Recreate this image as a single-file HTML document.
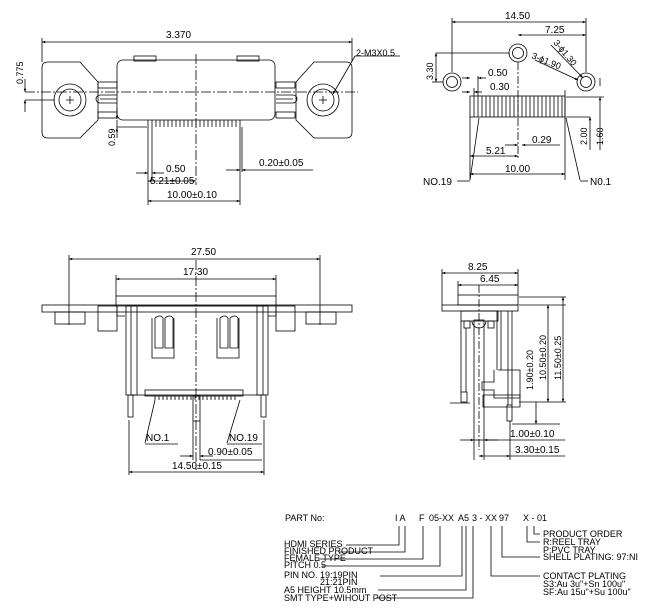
<!DOCTYPE html>
<html><head><meta charset="utf-8"><style>
html,body{margin:0;padding:0;background:#fff;}
svg{display:block;}
text{font-family:"Liberation Sans",sans-serif;font-size:10px;fill:#000;}
.s{font-size:9px;}
</style></head><body>
<svg width="650" height="610" viewBox="0 0 650 610" xmlns="http://www.w3.org/2000/svg">
<defs>
<marker id="a" viewBox="0 0 10 10" refX="10" refY="5" markerWidth="6" markerHeight="4" orient="auto-start-reverse"><path d="M0,1 L10,5 L0,9 z" fill="#000"/></marker>
</defs>
<g fill="none" stroke="#000" stroke-width="0.8">
<!-- ===== Top-left view ===== -->
<line x1="42" y1="42" x2="352" y2="42" marker-start="url(#a)" marker-end="url(#a)"/>
<line x1="42" y1="38" x2="42" y2="62"/><line x1="352" y1="38" x2="352" y2="62"/>
<path d="M48,62 H80 L98,82 V120 L80,138 H48 Q42,138 42,132 V68 Q42,62 48,62 Z"/>
<path d="M346,62 H314 L296,82 V120 L314,138 H346 Q352,138 352,132 V68 Q352,62 346,62 Z"/>
<rect x="117" y="60" width="158" height="60" rx="6"/>
<rect x="134" y="56" width="22" height="5"/><rect x="237" y="56" width="22" height="5"/>
<rect x="98" y="82" width="19" height="6"/><rect x="98" y="112" width="19" height="6"/>
<rect x="276" y="82" width="19" height="6"/><rect x="276" y="112" width="19" height="6"/>
<path d="M117,95 H100 A4,4 0 0 0 100,103 H117"/><path d="M117,99 H100"/>
<path d="M276,95 H293 A4,4 0 0 1 293,103 H276"/><path d="M276,99 H293"/>
<circle cx="70" cy="100" r="16"/><circle cx="70" cy="100" r="11"/>
<circle cx="323" cy="100" r="16"/><circle cx="323" cy="100" r="11"/>
<path d="M66,100h8M70,96v8M319,100h8M323,96v8"/>
<line x1="25" y1="92" x2="358" y2="92" stroke-dasharray="10,2,2,2"/>
<line x1="196" y1="54" x2="196" y2="185" stroke-dasharray="10,2,2,2"/>
<path d="M148,120 V127 M152,120V127 M156,120V127 M160,120V127 M164,120V127 M168,120V127 M172,120V127 M176,120V127 M180,120V127 M184,120V127 M188,120V127 M192,120V127 M196,120V127 M200,120V127 M204,120V127 M208,120V127 M212,120V127 M216,120V127 M220,120V127 M224,120V127 M228,120V127 M232,120V127 M236,120V127 M240,120V127"/>
<line x1="148" y1="127" x2="148" y2="205"/><line x1="152" y1="127" x2="152" y2="180"/>
<line x1="240" y1="127" x2="240" y2="205"/><line x1="242" y1="127" x2="242" y2="172"/>
<line x1="136" y1="173" x2="148" y2="173" marker-end="url(#a)"/><line x1="164" y1="173" x2="152" y2="173" marker-end="url(#a)"/>
<line x1="148" y1="181" x2="196" y2="181" marker-start="url(#a)" marker-end="url(#a)"/>
<line x1="148" y1="201" x2="240" y2="201" marker-start="url(#a)" marker-end="url(#a)"/>
<line x1="226" y1="170" x2="240" y2="170" marker-end="url(#a)"/><line x1="313" y1="170" x2="242" y2="170" marker-end="url(#a)"/>
<line x1="25" y1="79" x2="25" y2="92" marker-end="url(#a)"/><line x1="25" y1="112" x2="25" y2="100" marker-end="url(#a)"/>
<line x1="25" y1="100" x2="55" y2="100"/>
<line x1="117" y1="120" x2="117" y2="132"/><line x1="117" y1="108" x2="117" y2="119" marker-end="url(#a)"/>
<line x1="117" y1="138" x2="117" y2="128" marker-end="url(#a)"/><line x1="117" y1="127" x2="147" y2="127"/>
<line x1="333" y1="94" x2="355" y2="56" marker-start="url(#a)"/><line x1="355" y1="56" x2="400" y2="56"/>

<!-- ===== Top-right view ===== -->
<line x1="452" y1="22" x2="586" y2="22" marker-start="url(#a)" marker-end="url(#a)"/>
<line x1="452" y1="18" x2="452" y2="72"/><line x1="586" y1="18" x2="586" y2="72"/>
<line x1="518" y1="35" x2="586" y2="35" marker-start="url(#a)" marker-end="url(#a)"/>
<circle cx="518" cy="53" r="9"/><circle cx="518" cy="53" r="5.5"/>
<circle cx="452" cy="82" r="9"/><circle cx="452" cy="82" r="5.5"/>
<circle cx="586" cy="82" r="9"/><circle cx="586" cy="82" r="5.5"/>
<line x1="436" y1="53" x2="509" y2="53"/>
<line x1="436" y1="53" x2="436" y2="82" marker-start="url(#a)" marker-end="url(#a)"/>
<line x1="432" y1="82" x2="443" y2="82"/>
<line x1="518" y1="62" x2="518" y2="160" stroke-dasharray="8,2,2,2"/>
<line x1="551" y1="45" x2="583" y2="78" marker-end="url(#a)"/>
<line x1="535" y1="60" x2="578" y2="80" marker-end="url(#a)"/>
<line x1="600" y1="78" x2="600" y2="86"/>
<rect x="470" y="96" width="95" height="21"/>
<path d="M474,96v21M478,96v21M482,96v21M486,96v21M490,96v21M494,96v21M498,96v21M502,96v21M506,96v21M510,96v21M514,96v21M518,96v21M522,96v21M526,96v21M530,96v21M534,96v21M538,96v21M542,96v21M546,96v21M550,96v21M554,96v21M558,96v21M562,96v21"/>
<line x1="470" y1="117" x2="470" y2="180"/><line x1="474" y1="88" x2="474" y2="96"/>
<line x1="478" y1="76" x2="478" y2="96"/><line x1="565" y1="90" x2="565" y2="180"/>
<line x1="462" y1="78" x2="470" y2="78" marker-end="url(#a)"/><line x1="486" y1="78" x2="478" y2="78" marker-end="url(#a)"/>
<line x1="462" y1="92" x2="470" y2="92" marker-end="url(#a)"/><line x1="482" y1="92" x2="474" y2="92" marker-end="url(#a)"/>
<line x1="470" y1="156" x2="518" y2="156" marker-start="url(#a)" marker-end="url(#a)"/>
<line x1="505" y1="145" x2="518" y2="145" marker-end="url(#a)"/><line x1="560" y1="145" x2="522" y2="145" marker-end="url(#a)"/>
<line x1="470" y1="174" x2="565" y2="174" marker-start="url(#a)" marker-end="url(#a)"/>
<line x1="566" y1="97" x2="604" y2="97"/><line x1="566" y1="117" x2="590" y2="117"/>
<line x1="590" y1="117" x2="590" y2="150" marker-start="url(#a)"/>
<line x1="600" y1="97" x2="600" y2="150" marker-start="url(#a)"/>
<line x1="479" y1="118" x2="470" y2="180"/><line x1="457" y1="181" x2="470" y2="181"/>
<line x1="566" y1="118" x2="580" y2="180"/><line x1="580" y1="181" x2="588" y2="181"/>

<!-- ===== Bottom-left view ===== -->
<line x1="69" y1="259" x2="320" y2="259" marker-start="url(#a)" marker-end="url(#a)"/>
<line x1="69" y1="255" x2="69" y2="325"/><line x1="320" y1="255" x2="320" y2="325"/>
<line x1="116" y1="279" x2="276" y2="279" marker-start="url(#a)" marker-end="url(#a)"/>
<line x1="116" y1="275" x2="116" y2="296"/><line x1="276" y1="275" x2="276" y2="296"/>
<rect x="116" y="296" width="160" height="10"/>
<rect x="42" y="305" width="310" height="7"/>
<rect x="55" y="312" width="30" height="12"/><rect x="306" y="312" width="30" height="12"/>
<rect x="98" y="306" width="19" height="25"/><rect x="276" y="306" width="19" height="25"/>
<rect x="126" y="306" width="142" height="89"/>
<rect x="131" y="306" width="6" height="89"/><rect x="257" y="306" width="6" height="89"/>
<path d="M117,306v10h8 M276,306v10h-8"/>
<path d="M155,318 q5,-4 8,0 v30 h-8 z M165,318 q5,-4 8,0 v30 h-8 z M152,318 v40 h22 v-40"/>
<path d="M220,318 q5,-4 8,0 v30 h-8 z M230,318 q5,-4 8,0 v30 h-8 z M217,318 v40 h22 v-40"/>
<rect x="145" y="390" width="98" height="6"/>
<path d="M155,396v4M159,396v4M163,396v4M167,396v4M171,396v4M175,396v4M179,396v4M183,396v4M187,396v4M191,396v4M195,396v4M199,396v4M203,396v4M207,396v4M211,396v4M215,396v4M219,396v4M223,396v4M227,396v4M231,396v4M235,396v4"/>
<rect x="128" y="395" width="5" height="22"/><rect x="261" y="395" width="5" height="22"/>
<rect x="193" y="396" width="7" height="25"/>
<line x1="196" y1="260" x2="196" y2="470" stroke-dasharray="10,2,2,2"/>
<line x1="129" y1="420" x2="129" y2="475"/><line x1="264" y1="420" x2="264" y2="475"/>
<line x1="129" y1="472" x2="264" y2="472" marker-start="url(#a)" marker-end="url(#a)"/>
<line x1="193" y1="421" x2="193" y2="460"/><line x1="200" y1="421" x2="200" y2="460"/>
<line x1="180" y1="456" x2="193" y2="456" marker-end="url(#a)"/><line x1="213" y1="456" x2="200" y2="456" marker-end="url(#a)"/>
<line x1="200" y1="460" x2="262" y2="460"/>
<line x1="155" y1="400" x2="145" y2="443"/><line x1="145" y1="444" x2="178" y2="444"/>
<line x1="240" y1="400" x2="227" y2="443"/><line x1="227" y1="444" x2="262" y2="444"/>

<!-- ===== Bottom-right view ===== -->
<line x1="442" y1="273" x2="518" y2="273" marker-start="url(#a)" marker-end="url(#a)"/>
<line x1="442" y1="269" x2="442" y2="305"/><line x1="518" y1="269" x2="518" y2="295"/>
<line x1="458" y1="285" x2="518" y2="285" marker-start="url(#a)" marker-end="url(#a)"/>
<line x1="458" y1="281" x2="458" y2="295"/>
<rect x="458" y="295" width="60" height="10"/>
<rect x="442" y="305" width="76" height="6"/>
<rect x="461" y="311" width="37" height="10"/>
<path d="M472,321 a7,7 0 0 0 14,0"/>
<rect x="464" y="321" width="6" height="7"/><rect x="488" y="321" width="6" height="7"/>
<line x1="461" y1="321" x2="461" y2="392"/><line x1="466" y1="328" x2="466" y2="392"/>
<line x1="497" y1="311" x2="497" y2="370"/><line x1="501" y1="311" x2="501" y2="370"/>
<line x1="508" y1="311" x2="508" y2="405"/><line x1="512" y1="311" x2="512" y2="405"/>
<path d="M498,370 h22 v28 h-26 v-8 h-12 v-8 h12 v-12"/>
<path d="M483,395 h37 v12 h-37 z"/>
<rect x="461" y="392" width="6" height="10"/>
<path d="M450,403 h20"/>
<rect x="474" y="320" width="10" height="120"/>
<rect x="507" y="405" width="5" height="16"/>
<line x1="479" y1="285" x2="479" y2="450" stroke-dasharray="8,2,2,2"/>
<line x1="519" y1="305" x2="566" y2="305"/>
<line x1="519" y1="402" x2="566" y2="402"/>
<line x1="548" y1="305" x2="548" y2="402" marker-start="url(#a)" marker-end="url(#a)"/>
<line x1="563" y1="297" x2="563" y2="402" marker-start="url(#a)" marker-end="url(#a)"/>
<line x1="519" y1="297" x2="566" y2="297"/>
<line x1="536" y1="402" x2="536" y2="424" marker-end="url(#a)"/>
<line x1="512" y1="424" x2="560" y2="424"/>
<line x1="474" y1="440" x2="474" y2="460"/><line x1="484" y1="440" x2="484" y2="460"/><line x1="510" y1="421" x2="510" y2="460"/>
<line x1="460" y1="440" x2="474" y2="440" marker-end="url(#a)"/><line x1="498" y1="440" x2="484" y2="440" marker-end="url(#a)"/>
<line x1="484" y1="440" x2="565" y2="440"/>
<line x1="479" y1="456" x2="510" y2="456" marker-start="url(#a)" marker-end="url(#a)"/>
<line x1="510" y1="456" x2="565" y2="456"/>

<!-- ===== Part number leaders ===== -->
<path d="M399,526 V545 H346"/>
<path d="M405,526 V552 H339"/>
<path d="M423,526 V559 H318"/>
<path d="M440,526 V566 H322"/>
<path d="M462,526 V576 H380"/>
<path d="M466,526 V590 H378"/>
<path d="M473,526 V598 H376"/>
<path d="M491,526 V576 H540"/>
<path d="M502,526 V557 H540"/>
<path d="M527,526 V542 H540"/>
<path d="M534,526 V534 H540"/>
</g>

<g>
<text x="166" y="38">3.370</text>
<text x="356" y="56" class="s">2-M3X0.5</text>
<text class="s" transform="translate(23,84) rotate(-90)">0.775</text>
<text class="s" transform="translate(115,146) rotate(-90)">0.59</text>
<text x="166" y="172">0.50</text>
<text x="150" y="184">5.21±0.05</text>
<text x="167" y="198">10.00±0.10</text>
<text x="259" y="166">0.20±0.05</text>

<text x="505" y="19">14.50</text>
<text x="545" y="33">7.25</text>
<text transform="translate(553,43) rotate(50)" class="s">3-ϕ1.30</text>
<text transform="translate(531,58) rotate(22)" class="s">3-ϕ1.90</text>
<text class="s" transform="translate(433,80) rotate(-90)">3.30</text>
<text x="488" y="76">0.50</text>
<text x="490" y="90">0.30</text>
<text x="532" y="143">0.29</text>
<text x="486" y="154">5.21</text>
<text x="505" y="172">10.00</text>
<text x="423" y="185">NO.19</text>
<text x="590" y="185">N0.1</text>
<text class="s" transform="translate(587,145) rotate(-90)">2.00</text>
<text class="s" transform="translate(603,145) rotate(-90)">1.60</text>

<text x="191" y="255">27.50</text>
<text x="183" y="275">17.30</text>
<text x="146" y="441">NO.1</text>
<text x="229" y="441">NO.19</text>
<text x="208" y="455">0.90±0.05</text>
<text x="172" y="469">14.50±0.15</text>

<text x="468" y="270">8.25</text>
<text x="480" y="282">6.45</text>
<text class="s" transform="translate(533,390) rotate(-90)">1.90±0.20</text>
<text class="s" transform="translate(546,380) rotate(-90)">10.50±0.20</text>
<text class="s" transform="translate(561,380) rotate(-90)">11.50±0.25</text>
<text x="510" y="437">1.00±0.10</text>
<text x="515" y="453">3.30±0.15</text>

<text x="285" y="521" class="s">PART No:</text>
<text x="395" y="521" class="s">I A</text>
<text x="419" y="521" class="s">F</text>
<text x="429" y="521" class="s">05-XX</text>
<text x="458" y="521" class="s">A5</text>
<text x="472" y="521" class="s">3 - XX</text>
<text x="499" y="521" class="s">97</text>
<text x="523" y="521" class="s">X - 01</text>
<text x="284" y="547" class="s">HDMI SERIES</text>
<text x="284" y="554" class="s">FINISHED PRODUCT</text>
<text x="284" y="561" class="s">FEMALE TYPE</text>
<text x="284" y="568" class="s">PITCH 0.5</text>
<text x="284" y="578" class="s">PIN NO. 19:19PIN</text>
<text x="320" y="585" class="s">21:21PIN</text>
<text x="284" y="593" class="s">A5 HEIGHT 10.5mm</text>
<text x="284" y="601" class="s">SMT  TYPE+WIHOUT  POST</text>
<text x="543" y="537" class="s">PRODUCT ORDER</text>
<text x="543" y="545" class="s">R:REEL TRAY</text>
<text x="543" y="553" class="s">P:PVC TRAY</text>
<text x="543" y="560" class="s">SHELL PLATING: 97:NI</text>
<text x="543" y="579" class="s">CONTACT PLATING</text>
<text x="543" y="587" class="s">S3:Au 3u"+Sn 100u"</text>
<text x="543" y="595" class="s">SF:Au 15u"+Su 100u"</text>
</g>
</svg>
</body></html>
